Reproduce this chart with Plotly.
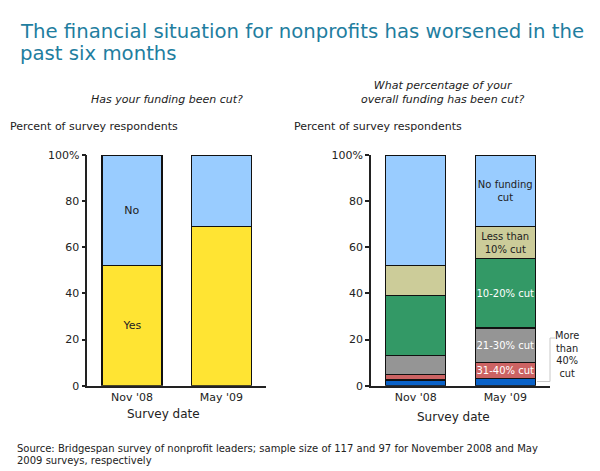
import plotly.graph_objects as go

dates = ["Nov '08", "May '09"]

# Has your funding been cut? (percent of respondents)
cut_yes = [52, 69]
cut_no = [48, 31]

# What percentage of your overall funding has been cut?
over_40 = [2.5, 3]
cut_31_40 = [2.5, 7]
cut_21_30 = [8, 15]
cut_10_20 = [26, 30]
under_10 = [13, 14]
no_cut = [48, 31]

y_ticks = [0, 20, 40, 60, 80, 100]
y_tick_labels = ['0', '20', '40', '60', '80', '100%']

FONT = 'DejaVu Sans'
DARK = '#222222'


def bar(y, color, text=None, text_color=DARK, axis='1', size=10):
    return go.Bar(
        x=dates, y=y,
        width=0.67,
        marker=dict(color=color, line=dict(color='#111111', width=1.2)),
        text=text if text else None,
        textposition='inside',
        insidetextanchor='middle',
        constraintext='none',
        textangle=0,
        textfont=dict(family=FONT, size=size, color=text_color),
        xaxis='x' if axis == '1' else 'x2',
        yaxis='y' if axis == '1' else 'y2',
        showlegend=False,
        hoverinfo='x+y',
    )


fig = go.Figure()

# left chart
fig.add_trace(bar(cut_yes, '#FFE433', ['Yes', ''], size=11))
fig.add_trace(bar(cut_no, '#99CCFF', ['No', ''], size=11))

# right chart
fig.add_trace(bar(over_40, '#0A62C8', axis='2'))
fig.add_trace(bar(cut_31_40, '#CC6363', ['', '31-40% cut'], 'white', axis='2'))
fig.add_trace(bar(cut_21_30, '#959595', ['', '21-30% cut'], 'white', axis='2'))
fig.add_trace(bar(cut_10_20, '#339966', ['', '10-20% cut'], 'white', axis='2'))
fig.add_trace(bar(under_10, '#CCCC99', ['', 'Less than<br>10% cut'], axis='2'))
fig.add_trace(bar(no_cut, '#99CCFF', ['', 'No funding<br>cut'], axis='2'))

yaxis_style = dict(
    range=[0, 100],
    tickvals=y_ticks,
    ticktext=y_tick_labels,
    ticks='outside', ticklen=4, tickwidth=1.5, tickcolor=DARK,
    showline=True, linecolor=DARK, linewidth=1.5,
    showgrid=False, zeroline=False,
    tickfont=dict(family=FONT, size=11, color=DARK),
    fixedrange=True, automargin=False,
)
xaxis_style = dict(
    type='category',
    range=[-0.5, 1.5],
    showline=True, linecolor=DARK, linewidth=1.5,
    ticks='', showgrid=False,
    tickfont=dict(family=FONT, size=11, color=DARK),
    fixedrange=True, automargin=False,
)

W, H = 600, 471


def px(x):
    return x / W


def py(y):
    return 1 - y / H


fig.update_layout(
    template='none',
    width=W, height=H,
    autosize=False,
    margin=dict(l=0, r=0, t=0, b=0, pad=0),
    paper_bgcolor='white',
    plot_bgcolor='white',
    barmode='stack',
    font=dict(family=FONT, size=11, color=DARK),
    xaxis=dict(xaxis_style, domain=[px(87.3), px(266)], anchor='y'),
    yaxis=dict(yaxis_style, domain=[py(385.7), py(155)], anchor='x'),
    xaxis2=dict(xaxis_style, domain=[px(371), px(550)], anchor='y2'),
    yaxis2=dict(yaxis_style, domain=[py(385.7), py(155)], anchor='x2'),
)

TITLE = '#1F7EA0'
notes = [
    dict(text='The financial situation for nonprofits has worsened in the',
         x=px(18), y=py(32), xanchor='left', yanchor='middle',
         font=dict(size=19.7, color=TITLE)),
    dict(text='past six months',
         x=px(18), y=py(54), xanchor='left', yanchor='middle',
         font=dict(size=19.7, color=TITLE)),
    dict(text='<i>Has your funding been cut?</i>', x=px(167), y=py(100),
         xanchor='center', yanchor='middle'),
    dict(text='<i>What percentage of your<br>overall funding has been cut?</i>',
         x=px(442), y=py(93), xanchor='center', yanchor='middle'),
    dict(text='Percent of survey respondents', x=px(8), y=py(127),
         xanchor='left', yanchor='middle'),
    dict(text='Percent of survey respondents', x=px(292), y=py(127),
         xanchor='left', yanchor='middle'),
    dict(text='Survey date', x=px(163), y=py(414), xanchor='center', yanchor='middle',
         font=dict(size=12)),
    dict(text='Survey date', x=px(453), y=py(417), xanchor='center', yanchor='middle',
         font=dict(size=12)),
    dict(text='More<br>than<br>40%<br>cut', x=px(567), y=py(354),
         xanchor='center', yanchor='middle', font=dict(size=9.8)),
    dict(text='Source: Bridgespan survey of nonprofit leaders; sample size of 117 and 97 for November 2008 and May',
         x=px(15), y=py(448), xanchor='left', yanchor='middle', font=dict(size=10)),
    dict(text='2009 surveys, respectively',
         x=px(15), y=py(460), xanchor='left', yanchor='middle', font=dict(size=10)),
]
for n in notes:
    n.setdefault('font', dict(size=11))
    n['font'].setdefault('family', FONT)
    n['font'].setdefault('color', DARK)
    fig.add_annotation(n, xref='paper', yref='paper', showarrow=False)

# bracket for the "More than 40% cut" label
bracket = '#C8C8C8'
fig.add_shape(type='line', xref='paper', yref='paper',
              x0=px(537), x1=px(550), y0=py(381.5), y1=py(381.5), line=dict(color=bracket, width=1))
fig.add_shape(type='line', xref='paper', yref='paper',
              x0=px(550), x1=px(550), y0=py(381.5), y1=py(338), line=dict(color=bracket, width=1))
fig.add_shape(type='line', xref='paper', yref='paper',
              x0=px(550), x1=px(555), y0=py(338), y1=py(338), line=dict(color=bracket, width=1))

fig.write_html("out.html",
               config={'displayModeBar': False},
               post_script="document.body.style.margin='0';document.body.style.overflow='hidden';")
